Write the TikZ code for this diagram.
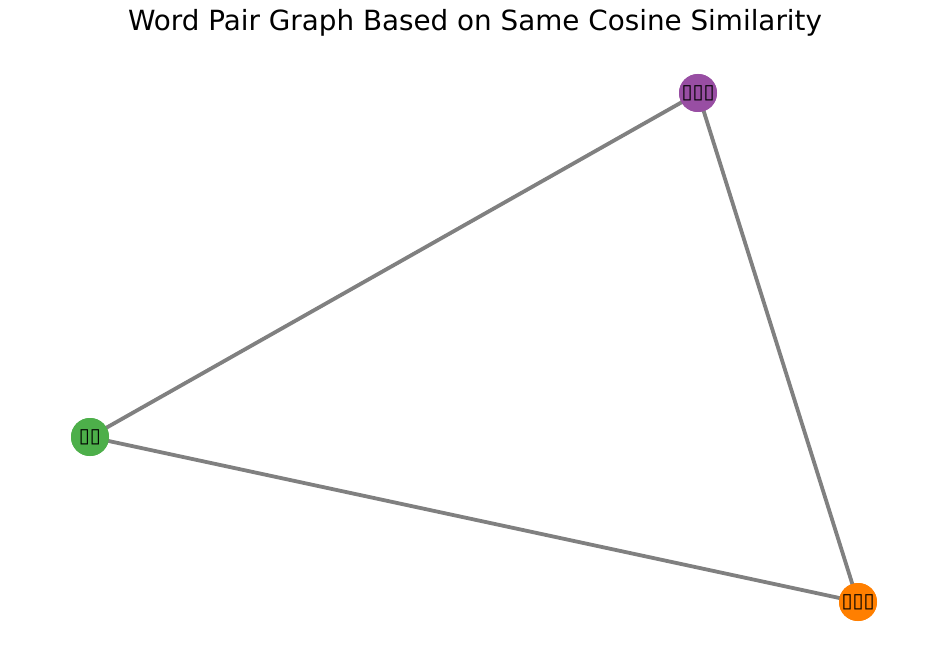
\documentclass[tikz,border=0pt]{standalone}
\usepackage{fontspec}
\setmainfont{DejaVu Sans}
\newfontfamily\tofu{DejaVu Sans}
\definecolor{npurple}{HTML}{984EA3}
\definecolor{ngreen}{HTML}{4DAF4A}
\definecolor{norange}{HTML}{FF7F00}
\definecolor{edgegray}{HTML}{808080}
\begin{document}
\begin{tikzpicture}[x=1pt,y=-1pt,
  wnode/.style={circle,minimum size=38pt,inner sep=0pt,font=\tofu\fontsize{20}{20}\selectfont},
  wedge/.style={draw=edgegray,line width=3.8pt}]
\useasboundingbox[fill=white] (0,0) rectangle (950,666);
\node (title) at (475,23) {\fontsize{27.8}{27.8}\selectfont Word Pair Graph Based on Same Cosine Similarity};
\node[wnode,fill=npurple] (a) at (698,93) {};
\node[wnode,fill=ngreen] (b) at (90,437) {};
\node[wnode,fill=norange] (c) at (858,602) {};
\draw[wedge] (a.center) -- (b.center);
\draw[wedge] (a.center) -- (c.center);
\draw[wedge] (b.center) -- (c.center);
\node[wnode,fill=npurple] at (a) {▯▯▯};
\node[wnode,fill=ngreen] at (b) {▯▯};
\node[wnode,fill=norange] at (c) {▯▯▯};
\end{tikzpicture}
\end{document}
